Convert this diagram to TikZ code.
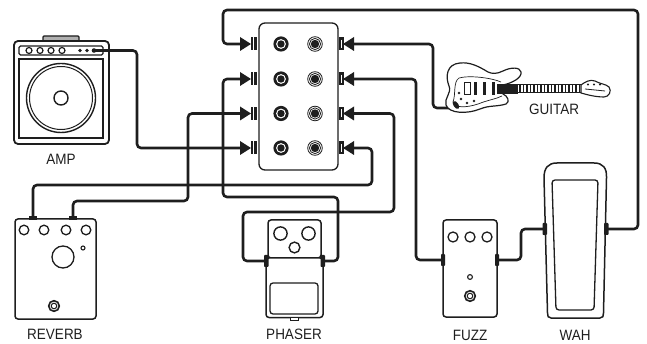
\documentclass[tikz,border=0pt]{standalone}
\usepackage{fontspec}
\setmainfont{Liberation Sans}[FakeStretch=0.9]
\definecolor{ink}{HTML}{1E1E1E}
\begin{document}
\begin{tikzpicture}[x=1pt,y=-1pt,
  cable/.style={draw=ink,line width=2.6pt,rounded corners=4pt},
  outl/.style={draw=ink,line width=1.5pt,fill=white},
  thinl/.style={draw=ink,line width=0.9pt},
  sidejack/.style={fill=ink,rounded corners=0.8pt},
  lbl/.style={font=\fontsize{15}{15}\selectfont,text=ink,inner sep=0pt},
  ]
\useasboundingbox (0,0) rectangle (647,344);

% ---------- jack points ----------
\coordinate (L1) at (246,44);  \coordinate (R1) at (348,44);
\coordinate (L2) at (246,79);  \coordinate (R2) at (348,79);
\coordinate (L3) at (246,113.5); \coordinate (R3) at (348,113.5);
\coordinate (L4) at (246,148); \coordinate (R4) at (348,148);
\coordinate (ampout) at (94,50.5);
\coordinate (revA) at (33,217);
\coordinate (revB) at (73,217);
\coordinate (phL) at (266,261);
\coordinate (phR) at (323,261);
\coordinate (fzL) at (443,260);
\coordinate (fzR) at (497,260);
\coordinate (wahL) at (545,229);
\coordinate (wahR) at (605,229);
\coordinate (gtr) at (452,108);

% ---------- cables ----------
\draw[cable] (revA) |- (372,185) |- (R4);
\draw[cable] (revB) |- (188,201) |- (L3);
\draw[cable] (phR) -| (338,197) -| (223,79) -- (L2);
\draw[cable] (phL) -| (243,212) -| (394,113.5) -- (R3);
\draw[cable] (fzL) -| (416,79) -- (R2);
\draw[cable] (fzR) -| (521,229) -- (wahL);
\draw[cable] (wahR) -| (638,10) -| (223,44) -- (L1);
\draw[cable] (gtr) -| (433,44) -- (R1);

% ---------- jack box ----------
\draw[outl,line width=1.3pt,rounded corners=6pt] (259,23) rectangle (338,170);
\foreach \y in {44,79,113.5,148}{
  \fill[ink] (240,\y-7) -- (251,\y) -- (240,\y+7) -- cycle;
  \fill[ink] (250.5,\y-6.5) rectangle (257,\y+6.5);
  \draw[white,line width=0.6pt] (253.5,\y-6.5) -- (253.5,\y+6.5);
  \fill[ink] (339,\y-6.5) rectangle (343.5,\y+6.5);
  \draw[white,line width=0.6pt] (341,\y-4) -- (341,\y+4);
  \fill[ink] (354,\y-7) -- (343,\y) -- (354,\y+7) -- cycle;
  \fill[ink] (281,\y) circle (7.6);
  \fill[white] (281,\y) circle (4.9);
  \fill[ink] (281,\y) circle (3.7);
  \draw[ink,line width=0.8pt] (315,\y) circle (7.3);
  \draw[ink,line width=0.8pt] (315,\y) circle (5.6);
  \fill[ink] (315,\y) circle (4.2);
}

% ---------- amp ----------
\draw[outl,fill=ink!35,line width=1.2pt,rounded corners=1pt] (43,36) rectangle (79,41.5);
\draw[outl,line width=1.8pt,rounded corners=4pt] (14,41) rectangle (109,144);
\draw[thinl,line width=1.3pt,rounded corners=1.5pt] (19,46) rectangle (103,55);
\foreach \x in {29,40,51,62}{\draw[thinl,line width=1.2pt] (\x,50.5) circle (3);}
\foreach \x in {80,87}{\fill[ink] (\x,50.5) circle (1.9);}
\draw[thinl,line width=1.3pt] (19,59) rectangle (103,138);
\draw[thinl,line width=1.4pt] (61,98) circle (34.5);
\draw[thinl,line width=1pt] (61,98) circle (31.5);
\draw[thinl,line width=1.4pt] (61,98) circle (7);
\draw[cable] (ampout) -| (137,148) -- (L4);
\fill[ink] (ampout) circle (2.3);

% ---------- reverb ----------
\draw[outl,rounded corners=3pt] (15,219) rectangle (96,319);
\fill[ink] (29,216.5) rectangle (37,220);
\fill[ink] (69,216.5) rectangle (77,220);
\foreach \x in {24,44,66,86}{\draw[thinl,line width=1.3pt] (\x,230) circle (4.8);}
\draw[thinl,line width=1.3pt] (63,257) circle (11);
\draw[thinl,line width=1.1pt] (83,248) circle (2);
\draw[thinl,line width=1.6pt] (54,306) circle (5.3);
\draw[thinl,line width=1pt] (54,306) circle (2.8);

% ---------- phaser ----------
\draw[outl,rounded corners=3pt] (268,220) rectangle (321,258);
\draw[outl,rounded corners=3pt] (266,258) rectangle (323,317.5);
\draw[thinl,line width=1.3pt,rounded corners=3pt] (270,283) rectangle (318,314);
\draw[outl,line width=1pt] (290,317.5) rectangle (298,320.5);
\fill[sidejack] (264,255) rectangle (268.5,267);
\fill[sidejack] (320.5,255) rectangle (325,267);
\draw[thinl,line width=1.4pt] (280.5,233.5) circle (6.6);
\draw[thinl,line width=1.4pt] (308.5,233.5) circle (6.6);
\draw[thinl,line width=1.4pt] (294.5,247.5) circle (5.4);

% ---------- fuzz ----------
\draw[outl,rounded corners=3pt] (443,220) rectangle (497,317);
\fill[sidejack] (441,254) rectangle (445,266);
\fill[sidejack] (495,254) rectangle (499,266);
\foreach \x in {453,470,487}{\draw[thinl,line width=1.3pt] (\x,237) circle (5);}
\draw[thinl,line width=1.1pt] (470,277) circle (2.4);
\draw[thinl,line width=1.6pt] (470,296) circle (5.3);
\draw[thinl,line width=1pt] (470,296) circle (2.8);

% ---------- wah ----------
\draw[outl] (551,318) .. controls (548,318) and (547.5,316) .. (547.5,313)
  -- (544,178) .. controls (544,168) and (548,163) .. (557,163)
  -- (594,163) .. controls (603,163) and (607,168) .. (606.5,178)
  -- (603.5,313) .. controls (603.5,316) and (603,318) .. (600,318) -- cycle;
\draw[thinl,line width=1.3pt,rounded corners=3pt] (552,180) -- (598,180) -- (594,310) -- (556,310) -- cycle;
\fill[sidejack] (542.5,223) rectangle (547,235);
\fill[sidejack] (604,223) rectangle (608.5,235);

% ---------- guitar ----------
\draw[thinl,fill=white,line width=1.2pt]
  (503,85) .. controls (512,83) and (522,78) .. (521,72)
  .. controls (520,67) and (511,67) .. (503,71)
  .. controls (497,74) and (492,74) .. (488,72)
  .. controls (478,66) and (470,62) .. (460,63)
  .. controls (447,64) and (445,76) .. (449,86)
  .. controls (452,93) and (444,98) .. (446,105)
  .. controls (449,114) and (468,114) .. (480,109)
  .. controls (490,105) and (496,107) .. (506,104)
  .. controls (510,102) and (508,96) .. (503,94) -- cycle;
\draw[thinl,line width=0.7pt]
  (501,82) .. controls (492,78) and (470,75) .. (459,78)
  .. controls (453,82) and (456,94) .. (453,102)
  .. controls (454,108) and (466,108) .. (478,104)
  .. controls (488,100) and (496,99) .. (502,96);
\draw[thinl,line width=0.8pt,fill=white] (464,82) rectangle (470.5,94);
\fill[ink] (474,82) rectangle (477,95);
\fill[ink] (483,82) rectangle (486,95);
\fill[ink] (492,82) rectangle (495,95);
\fill[ink] (497,84) rectangle (518,94);
\foreach \x/\y in {461/99,467/103,474/101,459/93}{\fill[ink] (\x,\y) circle (1.3);}
\fill[ink,rotate around={35:(456,105)}] (456,105) ellipse (2.5 and 4.5);
\draw[thinl,line width=1pt] (503,85) rectangle (581,93);
\foreach \x in {519,522.5,...,579}{\fill[ink] (\x,85) rectangle (\x+1.6,93);}
\draw[thinl,fill=white,line width=1.1pt]
  (581,85) .. controls (585,82) and (590,79) .. (595,81)
  .. controls (600,84) and (606,84) .. (609,87)
  .. controls (612,91) and (609,97) .. (604,97)
  .. controls (596,97) and (588,95) .. (581,93) -- cycle;
\foreach \x in {588,594,600}{\fill[ink] (\x,84.5) circle (1.2);}
\draw[ink,line width=0.8pt] (585,89) -- (605,91);

% ---------- labels ----------
\node[lbl] (tamp) at (61,159) {AMP};
\node[lbl] (trev) at (55,334) {REVERB};
\node[lbl] (tph) at (294,334.5) {PHASER};
\node[lbl] (tfz) at (470,335) {FUZZ};
\node[lbl] (twah) at (575,335) {WAH};
\node[lbl] (tgtr) at (554,109) {GUITAR};
\end{tikzpicture}
\end{document}
